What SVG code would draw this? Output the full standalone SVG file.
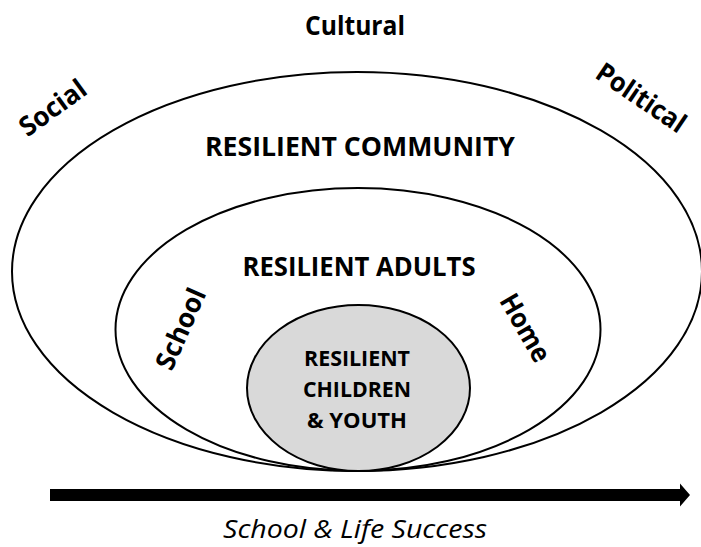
<svg xmlns="http://www.w3.org/2000/svg" width="701" height="547" viewBox="0 0 701 547">
  <style>
    .ring { fill: none; stroke: #000; stroke-width: 2; }
    .core { fill: #d9d9d9; stroke: #000; stroke-width: 2; }
    .lbl { font-family: "Open Sans", "Liberation Sans", sans-serif; font-weight: bold; fill: #000; text-anchor: middle; }
    .big { font-size: 27px; }
    .small { font-size: 22px; }
    .cap { font-family: "Open Sans", "Liberation Sans", sans-serif; font-style: italic; font-size: 26px; fill: #000; text-anchor: middle; }
  </style>

  <!-- outer ring: community -->
  <g id="community">
    <ellipse class="ring" cx="357" cy="271.5" rx="345" ry="199.5"/>
    <text class="lbl big" x="360" y="156" textLength="310" lengthAdjust="spacingAndGlyphs">RESILIENT COMMUNITY</text>
  </g>

  <!-- middle ring: adults -->
  <g id="adults">
    <ellipse class="ring" cx="358" cy="329.5" rx="242.5" ry="141.5"/>
    <text class="lbl big" x="359" y="276" textLength="233" lengthAdjust="spacingAndGlyphs">RESILIENT ADULTS</text>
  </g>

  <!-- inner core: children and youth -->
  <g id="children">
    <ellipse class="core" cx="358.5" cy="388" rx="111.5" ry="83"/>
    <text class="lbl small" x="357" y="366" textLength="106" lengthAdjust="spacingAndGlyphs">RESILIENT</text>
    <text class="lbl small" x="357" y="397" textLength="108" lengthAdjust="spacingAndGlyphs">CHILDREN</text>
    <text class="lbl small" x="357" y="428" textLength="100" lengthAdjust="spacingAndGlyphs">&amp; YOUTH</text>
  </g>

  <!-- context labels around the rings -->
  <g id="cultural">
    <text class="lbl big" x="355" y="35" textLength="100" lengthAdjust="spacingAndGlyphs">Cultural</text>
  </g>
  <g id="social">
    <text class="lbl big" transform="translate(53,108) rotate(-36)" x="0" y="9" textLength="76" lengthAdjust="spacingAndGlyphs">Social</text>
  </g>
  <g id="political">
    <text class="lbl big" transform="translate(641,98) rotate(34)" x="0" y="9" textLength="102" lengthAdjust="spacingAndGlyphs">Political</text>
  </g>
  <g id="school">
    <text class="lbl big" transform="translate(181,329) rotate(-66)" x="0" y="9" textLength="86" lengthAdjust="spacingAndGlyphs">School</text>
  </g>
  <g id="home">
    <text class="lbl big" transform="translate(525,328) rotate(60)" x="0" y="9" textLength="74" lengthAdjust="spacingAndGlyphs">Home</text>
  </g>

  <!-- progress arrow -->
  <g id="connectors">
    <polygon fill="#000" points="50,489 680,489 680,483.5 690,495 680,506.5 680,501 50,501"/>
  </g>
  <g id="success">
    <text class="cap" x="355" y="538" textLength="264" lengthAdjust="spacingAndGlyphs">School &amp; Life Success</text>
  </g>
</svg>
